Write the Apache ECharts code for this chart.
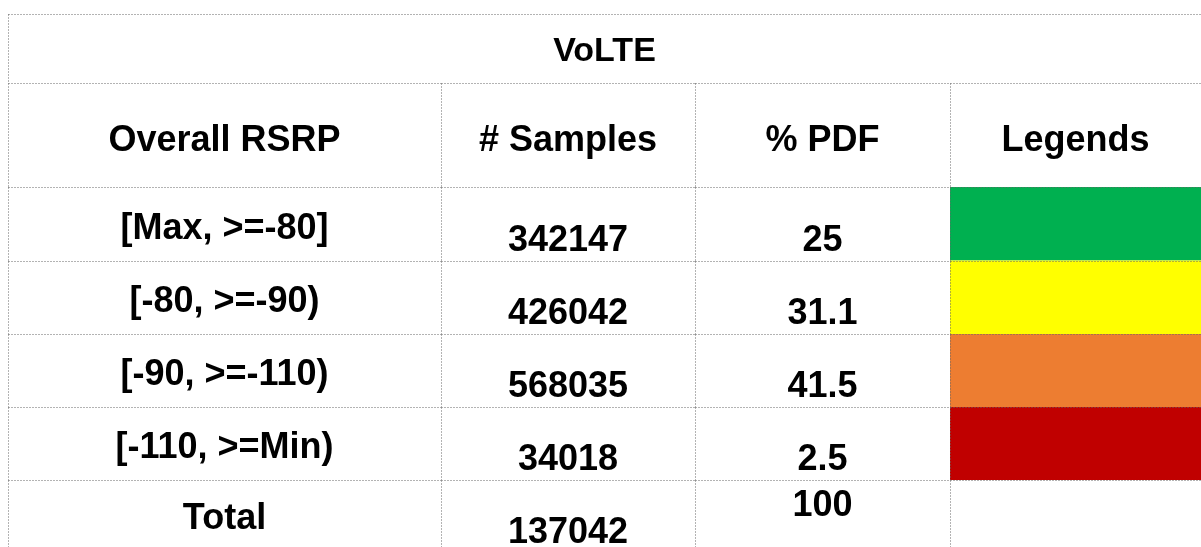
<!DOCTYPE html>
<html>
<head>
<meta charset="utf-8">
<script src="https://cdn.jsdelivr.net/npm/echarts@6/dist/echarts.min.js"></script>
<style>
html,body{margin:0;padding:0;background:#fff;}
#c{width:1201px;height:547px;}
</style>
</head>
<body>
<div id="c"></div>
<script>
// ---- data ----
const title = 'VoLTE';
const headers = ['Overall RSRP', '# Samples', '% PDF', 'Legends'];
const categories = ['[Max, >=-80]', '[-80, >=-90)', '[-90, >=-110)', '[-110, >=Min)'];
const samples = [342147, 426042, 568035, 34018];
const pdf = [25, 31.1, 41.5, 2.5];
const legendColors = ['#00B050', '#FFFF00', '#ED7D31', '#C00000'];
const totalLabel = 'Total';
const totalSamples = 137042;
const totalPdf = 100;

// ---- layout (pixel space of the grid) ----
const W = 1201, H = 547;
const colEdges = [8, 441, 695, 950, 1201];
const rowEdges = [14, 83, 187, 260.5, 334, 407, 480, 547];
const FONT = '"Liberation Sans", Arial, sans-serif';
const lineColor = '#666666';

const cells = [];
cells.push({ c0: 0, c1: 4, r: 0, text: title, size: 34, dy: 3 });
headers.forEach((h, i) => cells.push({ c0: i, c1: i + 1, r: 1, text: h, size: 36, dy: 6 }));
categories.forEach((cat, i) => {
  const r = i + 2;
  cells.push({ c0: 0, c1: 1, r, text: cat, size: 36, dy: 5 });
  cells.push({ c0: 1, c1: 2, r, text: String(samples[i]), size: 36, dy: 17 });
  cells.push({ c0: 2, c1: 3, r, text: String(pdf[i]), size: 36, dy: 17 });
  cells.push({ c0: 3, c1: 4, r, text: '', fill: legendColors[i], size: 36, dy: 0 });
});
cells.push({ c0: 0, c1: 1, r: 6, text: totalLabel, size: 36, dy: 6 });
cells.push({ c0: 1, c1: 2, r: 6, text: String(totalSamples), size: 36, dy: 20 });
cells.push({ c0: 2, c1: 3, r: 6, text: String(totalPdf), size: 36, dy: -7 });
cells.push({ c0: 3, c1: 4, r: 6, text: '', size: 36, dy: 0 });

const seriesData = cells.map((c, i) => [colEdges[c.c0], rowEdges[c.r], colEdges[c.c1], rowEdges[c.r + 1], i]);

function cellGeom(api) {
  const p0 = api.coord([api.value(0), api.value(1)]);
  const p1 = api.coord([api.value(2), api.value(3)]);
  return { x: p0[0], y: p0[1], w: p1[0] - p0[0], h: p1[1] - p0[1] };
}

const chart = echarts.init(document.getElementById('c'), null, { renderer: 'canvas' });
chart.setOption({
  animation: false,
  backgroundColor: '#ffffff',
  grid: { left: 0, right: 0, top: 0, bottom: 0 },
  xAxis: { type: 'value', min: 0, max: W, show: false },
  yAxis: { type: 'value', min: 0, max: H, inverse: true, show: false },
  series: [
    {
      type: 'custom',
      z: 1,
      clip: false,
      data: seriesData,
      renderItem: function (params, api) {
        const g = cellGeom(api);
        const cell = cells[api.value(4)];
        const children = [];
        if (cell.fill) {
          children.push({ type: 'rect', shape: { x: g.x, y: g.y, width: g.w, height: g.h }, style: { fill: cell.fill } });
        }
        if (cell.text) {
          children.push({
            type: 'text',
            style: {
              x: g.x + g.w / 2, y: g.y + g.h / 2 + cell.dy,
              text: cell.text, fill: '#000', align: 'center', verticalAlign: 'middle',
              font: 'bold ' + cell.size + 'px ' + FONT
            }
          });
        }
        return { type: 'group', children };
      }
    },
    {
      type: 'custom',
      z: 2,
      clip: false,
      data: seriesData,
      renderItem: function (params, api) {
        const g = cellGeom(api);
        const x = Math.round(g.x) + 0.5, y = Math.round(g.y) + 0.5;
        const st = { stroke: lineColor, lineWidth: 1, lineDash: [1, 2] };
        return {
          type: 'group',
          children: [
            { type: 'line', shape: { x1: x, y1: y, x2: g.x + g.w, y2: y }, style: st },
            { type: 'line', shape: { x1: x, y1: y, x2: x, y2: g.y + g.h }, style: st }
          ]
        };
      }
    }
  ]
});
</script>
</body>
</html>
